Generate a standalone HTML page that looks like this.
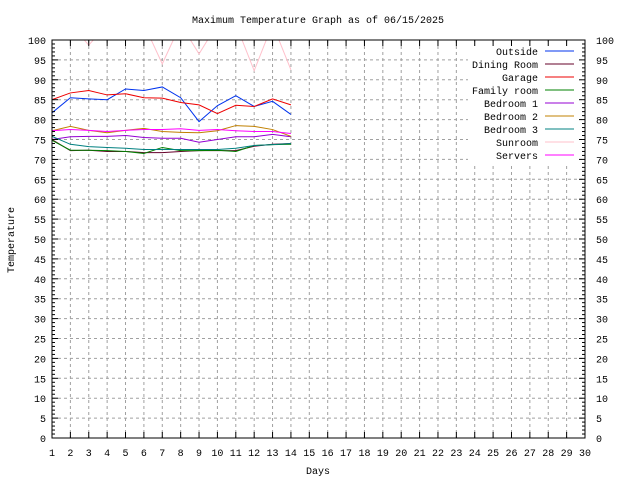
<!DOCTYPE html>
<html><head><meta charset="utf-8"><style>
body{margin:0;background:#fff}
svg text{font-family:"Liberation Mono",monospace;font-size:10px;fill:#000}
</style></head><body>
<svg id="chart" width="640" height="480" xmlns="http://www.w3.org/2000/svg">
<text x="318" y="23" text-anchor="middle">Maximum Temperature Graph as of 06/15/2025</text>
<text transform="translate(14,240) rotate(-90)" text-anchor="middle">Temperature</text>
<text x="318" y="474" text-anchor="middle">Days</text>
<g id="grid"></g><g id="series"></g><g id="axes"></g><g id="legend"></g>
</svg>
<script>
const days=[1,2,3,4,5,6,7,8,9,10,11,12,13,14];
const seriesNames=["Outside","Dining Room","Garage","Family room","Bedroom 1","Bedroom 2","Bedroom 3","Sunroom","Servers"];
const outside=[81.7,85.5,85.2,85,87.7,87.3,88.2,85.5,79.5,83.5,86,83.3,84.6,81.3];
const diningRoom=[75,72.2,72.3,72,72,71.7,71.7,72,72.2,72.2,72.2,73.3,73.8,74];
const garage=[85,86.7,87.3,86.2,86.5,85.5,85.4,84.3,83.7,81.5,83.6,83.3,85.2,83.7];
const familyRoom=[74.8,72.3,72.3,72.2,72,71.5,73,72.2,72.2,72.3,72,73.5,73.7,73.8];
const bedroom1=[75,75.7,75.8,75.8,76,75.5,75.3,75.3,74.3,75,75.7,75.7,76.3,75.7];
const bedroom2=[77.2,78.3,77.3,76.7,77.3,77.8,77,76.8,76.7,77.2,78.5,78.3,77.5,75.8];
const bedroom3=[75.8,73.8,73.2,73,72.8,72.5,72.5,72.5,72.5,72.5,72.8,73.5,73.7,74];
const sunroom=[100,104,98.7,104,104,104,94,104,96.5,104,104,92.3,104,92.5];
const servers=[77.2,77.5,77.3,77,77.3,77.5,77.5,77.7,77.3,77.5,77.2,77,77,76.5];
const xTicks=[1,2,3,4,5,6,7,8,9,10,11,12,13,14,15,16,17,18,19,20,21,22,23,24,25,26,27,28,29,30];
const yTicks=[0,5,10,15,20,25,30,35,40,45,50,55,60,65,70,75,80,85,90,95,100];
const colors=["#0033ee","#66002a","#ee0000","#008000","#9400d3","#c08000","#008080","#ffc0cb","#ff00ff"];
const L=52,R=585,T=40,B=438;
const xs=d=>L+(d-1)*(R-L)/29;
const ys=v=>B-v*(B-T)/100;
const NS="http://www.w3.org/2000/svg";
function mk(tag,parent,attrs){const e=document.createElementNS(NS,tag);for(const k in attrs)e.setAttribute(k,attrs[k]);parent.appendChild(e);return e;}
const grid=document.getElementById('grid'),axes=document.getElementById('axes'),ser=document.getElementById('series'),leg=document.getElementById('legend');
xTicks.forEach(d=>{
 const x=xs(d);
 if(d>1&&d<30){const g=mk('line',grid,{x1:x,x2:x,y1:T,y2:B,stroke:'#a0a0a0','stroke-dasharray':'3,3'});
 
 }
 const t=mk('line',axes,{x1:x,x2:x,y1:B,y2:B-6,stroke:'#000'});
 
 
 const t2=mk('line',axes,{x1:x,x2:x,y1:T,y2:T+6,stroke:'#000'});
 
 
 const lb=mk('text',axes,{x:x,y:456,'text-anchor':'middle'});lb.textContent=d;
 
 
});
for(let v=0;v<=100;v++){const y=ys(v);const len=v%5===0?6:3;
 const a=mk('line',axes,{x1:L,x2:L+len,y1:y,y2:y,stroke:'#000'});
 
 
 const b=mk('line',axes,{x1:R,x2:R-len,y1:y,y2:y,stroke:'#000'});
 
 }
yTicks.forEach(v=>{const y=ys(v);
 if(v>0&&v<100){const g=mk('line',grid,{x1:L,x2:R,y1:y,y2:y,stroke:'#a0a0a0','stroke-dasharray':'3,3'});
 
 }
 const l=mk('text',axes,{x:46,y:y+4,'text-anchor':'end'});l.textContent=v;
 
 
 const r=mk('text',axes,{x:596,y:y+4});r.textContent=v;
 
 
});
const bg=mk('rect',grid,{x:468,y:42,width:115,height:121,fill:'#fff'});


const fr=mk('rect',axes,{x:L,y:T,width:R-L,height:B-T,fill:'none',stroke:'#000'});


const cp=mk('clipPath',ser,{id:'clip'});mk('rect',cp,{x:L,y:T,width:R-L,height:B-T});
const data=[outside,diningRoom,garage,familyRoom,bedroom1,bedroom2,bedroom3,sunroom,servers];
data.forEach((arr,i)=>{
 const pts=arr.map((v,j)=>xs(days[j])+','+ys(v)).join(' ');
 const p=mk('polyline',ser,{points:pts,fill:'none',stroke:colors[i],'stroke-width':1,'clip-path':'url(#clip)'});
 
 
 const y=52+i*13;
 const t=mk('text',leg,{x:538,y:y+3,'text-anchor':'end'});t.textContent=seriesNames[i];
 
 
 const s=mk('line',leg,{x1:545,x2:574,y1:y-1,y2:y-1,stroke:colors[i],'stroke-width':1});
 
 
});
</script>
</body></html>
